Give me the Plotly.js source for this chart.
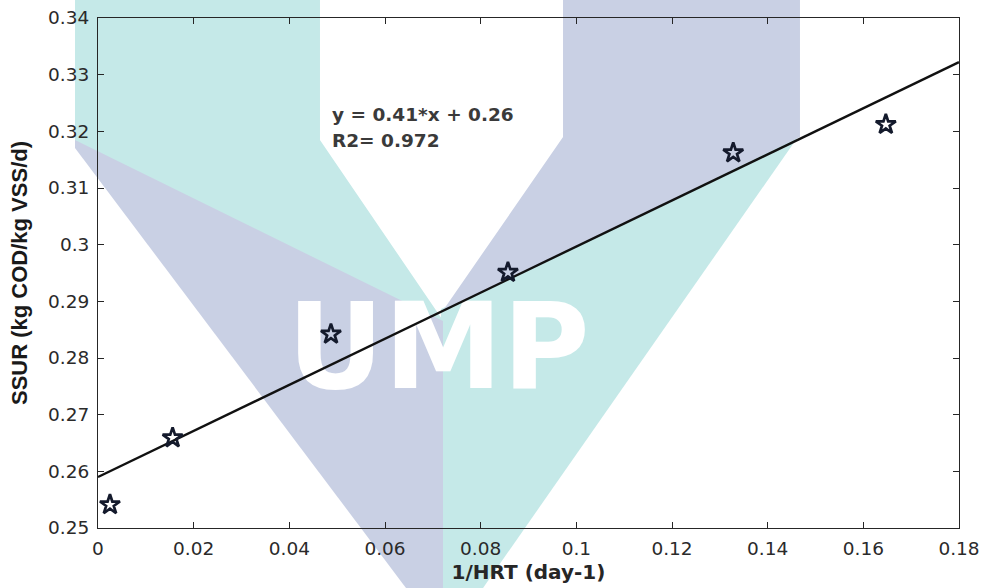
<!DOCTYPE html>
<html>
<head>
<meta charset="utf-8">
<script src="https://cdn.plot.ly/plotly-3.0.1.min.js"></script>
<style>
html,body{margin:0;padding:0;background:#ffffff;}
#chart{width:987px;height:588px;}
</style>
</head>
<body>
<div id="chart"></div>
<script>
// ---- data ----
const hrtInverse = [0.0025, 0.0156, 0.0487, 0.0857, 0.1328, 0.1647];
const ssur       = [0.2541, 0.2659, 0.2842, 0.2951, 0.3162, 0.3212];
const fitX = [0, 0.18];
const fitY = [0.259, 0.3322];
const xTickVals = [0, 0.02, 0.04, 0.06, 0.08, 0.1, 0.12, 0.14, 0.16, 0.18];
const xTickText = ['0', '0.02', '0.04', '0.06', '0.08', '0.1', '0.12', '0.14', '0.16', '0.18'];
const yTickVals = [0.25, 0.26, 0.27, 0.28, 0.29, 0.3, 0.31, 0.32, 0.33, 0.34];
const yTickText = ['0.25', '0.26', '0.27', '0.28', '0.29', '0.3', '0.31', '0.32', '0.33', '0.34'];
const equationText = 'y = 0.41*x + 0.26';
const r2Text = 'R2= 0.972';
const xTitle = '1/HRT (day-1)';
const yTitle = 'SSUR (kg COD/kg VSS/d)';
const watermarkText = 'UMP';

// ---- layout geometry ----
const W = 987, H = 588;
const M = {l: 98, r: 28, t: 18, b: 60};
const xRange = [0, 0.18], yRange = [0.25, 0.34];
const plotW = W - M.l - M.r, plotH = H - M.t - M.b;
const fx = p => (p - M.l) / plotW;           // pixel -> paper
const fy = p => (H - M.b - p) / plotH;
const toPath = pts => 'M' + pts.map(p => fx(p[0]).toFixed(4) + ',' + fy(p[1]).toFixed(4)).join(' L') + ' Z';

const teal = '#c5e9e8', lav = '#c9d0e4';
// teal pieces first (slightly oversized), lavender pieces drawn over them
const wmShapes = [
  {pts: [[75,0],[320,0],[320,140],[442,319],[444,326],[75,144]], c: teal},
  {pts: [[800,134],[441,309],[441,588],[483,588]], c: teal},
  {pts: [[75,140],[443,321],[443,588],[406,588],[75,148]], c: lav},
  {pts: [[563,0],[800,0],[800,137],[442,312],[563,137]], c: lav}
].map(s => ({type:'path', xref:'paper', yref:'paper', path: toPath(s.pts),
             fillcolor: s.c, line:{width:0}, layer:'below'}));

// watermark letter centre (pixels) converted through the axis ranges
const wmCx = 438.5, wmCy = 358;
const wmX = xRange[0] + fx(wmCx) * (xRange[1] - xRange[0]);
const wmY = yRange[0] + fy(wmCy) * (yRange[1] - yRange[0]);

const tickFont = {family: 'DejaVu Sans, sans-serif', size: 18.5, color: '#2a2a2a'};

const traces = [
  {x: [wmX], y: [wmY], mode: 'text', text: [watermarkText], textposition: 'middle center',
   textfont: {family: 'DejaVu Sans, sans-serif', size: 119, color: '#ffffff', weight: 'bold'},
   hoverinfo: 'skip', showlegend: false},
  {x: fitX, y: fitY, mode: 'lines', line: {color: '#111111', width: 2.4},
   hoverinfo: 'skip', showlegend: false},
  {x: hrtInverse, y: ssur, mode: 'markers',
   marker: {symbol: 'star-open', size: 15, color: '#141a2c', line: {width: 2.7, color: '#141a2c'}},
   showlegend: false}
];

const layout = {
  width: W, height: H,
  margin: M,
  paper_bgcolor: '#ffffff',
  plot_bgcolor: 'rgba(0,0,0,0)',
  showlegend: false,
  shapes: wmShapes,
  xaxis: {
    range: xRange, tickvals: xTickVals, ticktext: xTickText,
    showgrid: false, zeroline: false,
    showline: true, linecolor: '#262626', linewidth: 1, mirror: 'ticks',
    ticks: 'inside', ticklen: 6, tickcolor: '#262626', tickwidth: 1,
    tickfont: tickFont, ticklabelstandoff: 4,
    title: {text: xTitle, standoff: 6,
            font: {family: 'DejaVu Sans, sans-serif', size: 20, color: '#262626', weight: 'bold'}}
  },
  yaxis: {
    range: yRange, tickvals: yTickVals, ticktext: yTickText,
    showgrid: false, zeroline: false,
    showline: true, linecolor: '#262626', linewidth: 1, mirror: 'ticks',
    ticks: 'inside', ticklen: 6, tickcolor: '#262626', tickwidth: 1,
    tickfont: tickFont, ticklabelstandoff: 4,
    title: {text: yTitle, standoff: 14,
            font: {family: 'Liberation Sans, Arial, sans-serif', size: 22, color: '#1a1a1a', weight: 'bold'}}
  },
  annotations: [
    {xref:'paper', yref:'paper', x: fx(330), y: fy(114), xanchor:'left', yanchor:'middle',
     text: equationText, showarrow:false,
     font:{family:'DejaVu Sans, sans-serif', size:18.5, color:'#3a3a3a', weight:'bold'}},
    {xref:'paper', yref:'paper', x: fx(330), y: fy(140), xanchor:'left', yanchor:'middle',
     text: r2Text, showarrow:false,
     font:{family:'DejaVu Sans, sans-serif', size:18.5, color:'#3a3a3a', weight:'bold'}}
  ]
};

Plotly.newPlot('chart', traces, layout, {displayModeBar: false, staticPlot: true});
</script>
</body>
</html>
